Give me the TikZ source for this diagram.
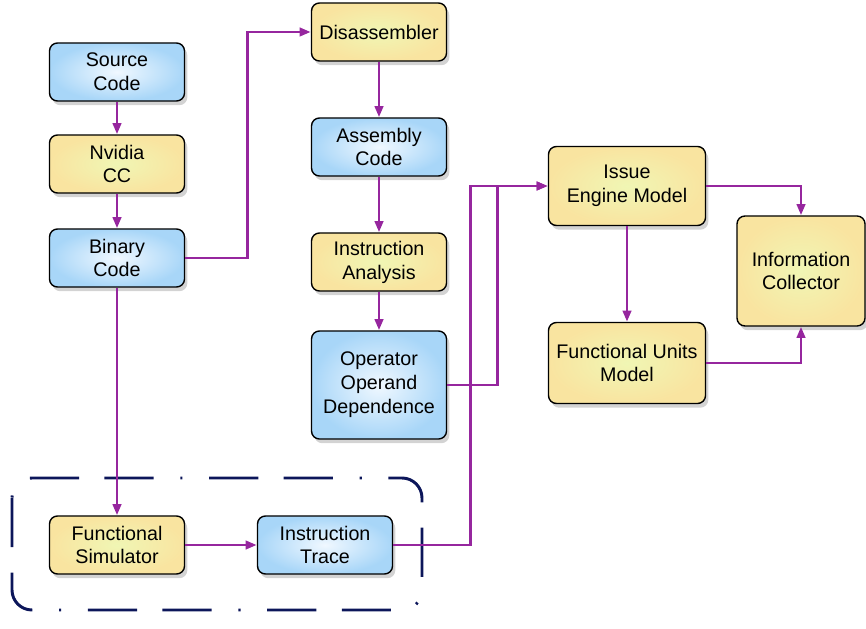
\documentclass[tikz,border=0pt]{standalone}
\usepackage{fontspec}
\setmainfont{Liberation Sans}
\usetikzlibrary{arrows.meta,shadows}
\definecolor{flowpurple}{RGB}{150,38,158}
\definecolor{groupnavy}{RGB}{12,22,90}
\definecolor{blueedge}{RGB}{168,214,248}
\definecolor{bluecore}{RGB}{240,248,255}
\definecolor{yellowedge}{RGB}{249,228,160}
\definecolor{yellowcore}{RGB}{240,246,180}
\begin{document}
\begin{tikzpicture}[
        x=0.025cm, y=-0.025cm,
        box/.style={rectangle, draw, line width=1pt, rounded corners=0.2cm, inner sep=0pt,
            minimum width=3.375cm, minimum height=1.45cm, align=center,
            font=\fontsize{14}{17}\selectfont,
            drop shadow={opacity=0.35, shadow xshift=2pt, shadow yshift=-3pt}},
        bluebox/.style={box, inner color=bluecore, outer color=blueedge},
        yellowbox/.style={box, inner color=yellowcore, outer color=yellowedge},
        arrow/.style={-{Triangle[length=8pt, width=6pt]}, draw=flowpurple, line width=2pt},
        group/.style={draw=groupnavy, line width=2.1pt, rounded corners=0.5cm,
            dash pattern=on 35pt off 18pt on 35pt off 19pt on 1.5pt off 19pt}
    ]
        \useasboundingbox (0,0) rectangle (866,629);
        % front end
        \node[bluebox] (source) at (117, 72) {Source\\Code};
        \node[yellowbox] (nvcc) at (117, 164) {Nvidia\\CC};
        \node[bluebox] (binary) at (117, 258) {Binary\\Code};
        % static analysis
        \node[yellowbox] (disasm) at (379, 32) {Disassembler};
        \node[bluebox] (asm) at (379, 147) {Assembly\\Code};
        \node[yellowbox] (analysis) at (379, 262) {Instruction\\Analysis};
        \node[bluebox, minimum height=2.7cm] (depend) at (379, 385) {Operator\\Operand\\Dependence};
        % model
        \node[yellowbox, minimum width=3.925cm, minimum height=1.975cm] (issue) at (627, 186) {Issue\\Engine Model};
        \node[yellowbox, minimum width=3.925cm, minimum height=2.025cm] (units) at (627, 363) {Functional Units\\Model};
        \node[yellowbox, minimum width=3.2cm, minimum height=2.75cm] (collector) at (801, 271) {Information\\Collector};
        % simulation
        \draw[group] (12, 478) rectangle (422, 610);
        \node[yellowbox] (funcsim) at (117, 545) {Functional\\Simulator};
        \node[bluebox] (trace) at (325, 545) {Instruction\\Trace};

        \draw[arrow] (source) -- (nvcc);
        \draw[arrow] (nvcc) -- (binary);
        \draw[arrow] (binary.east) -- ++(62, 0) |- (disasm.west);
        \draw[arrow] (disasm) -- (asm);
        \draw[arrow] (asm) -- (analysis);
        \draw[arrow] (analysis) -- (depend);
        \draw[arrow] (depend.east) -- ++(50, 0) |- (issue.west);
        \draw[arrow] (binary) -- (funcsim);
        \draw[arrow] (funcsim) -- (trace);
        \draw[arrow] (trace.east) -- ++(77, 0) |- (issue.west);
        \draw[arrow] (issue) -- (units);
        \draw[arrow] (issue.east) -| (collector.north);
        \draw[arrow] (units.east) -| (collector.south);
    \end{tikzpicture}
\end{document}
